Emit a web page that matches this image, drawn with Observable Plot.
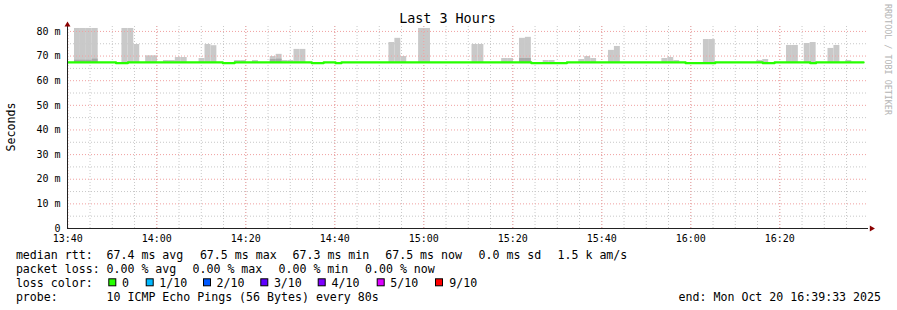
<!DOCTYPE html>
<html><head><meta charset="utf-8">
<script src="https://cdn.jsdelivr.net/npm/d3@7"></script>
<script src="https://cdn.jsdelivr.net/npm/@observablehq/plot@0.6"></script>
<style>
html,body{margin:0;padding:0;background:#fff;}
#chart{width:897px;height:310px;position:relative;}
</style></head><body><div id="chart"></div>
<script>
// ---- time window of the plot area ----
const startTime = "2025-10-20T13:39:56Z";
const endTime = "2025-10-20T16:39:56Z";
const firstStep = "2025-10-20T13:41:30Z";
const stepSeconds = 80;

// ---- smoke (ping spread) per 80 s step, values in ms ----
const smokeStep = [0,1,2,3,8,9,10,12,13,15,16,17,18,21,22,23,27,28,30,33,34,35,36,37,38,53,54,55,58,59,67,68,72,73,75,76,79,80,85,86,87,90,91,99,100,101,106,107,115,116,120,121,123,124,127,128,130];
const smokeTop  = [81.2,81.2,81.2,81.2,81.2,81.2,74.7,70.1,70.1,68.2,68.2,69.4,69.4,69.0,74.7,74.2,68.2,68.2,68.2,69.8,70.7,68.2,68.2,72.7,72.7,75.5,77.2,69.8,81.2,81.2,74.7,74.7,69.0,69.0,77.2,77.6,68.2,68.2,68.6,69.8,69.0,72.3,73.9,69.0,69.4,68.2,76.7,76.7,68.2,68.6,74.3,74.3,75.1,75.5,73.1,74.3,68.2];
const denseStep = [0,1,2,3,33,34,75,76];
const denseTop  = [68.3,68.3,68.3,68.75,68.6,68.75,69.0,69.0];
const smokeBase = 67.3;

// ---- median rtt (step line: value holds from the step index until the next) ----
const medianStep  = [-2,7,9,25,27,40,42,44,45,77,83,103,108,116,118,124,125,133];
const medianValue = [67.4,67.1,67.4,67.1,67.4,67.1,67.4,67.1,67.4,67.1,67.4,67.1,67.4,67.1,67.4,67.1,67.4,67.4];

// ---- axes ----
const yTicks = [0,10,20,30,40,50,60,70,80];
const yMinorGrid = [5,15,25,35,45,55,65,75];
const yMajorGrid = [10,20,30,40,50,60,70,80];

// ---- legend text ----
const title = "Last 3 Hours";
const yLabel = "Seconds";
const watermark = "RRDTOOL / TOBI OETIKER";
const rttItems = ["median rtt:", "67.4 ms avg", "67.5 ms max", "67.3 ms min", "67.5 ms now", "0.0 ms sd", "1.5 k am/s"];
const lossItems = ["packet loss:", "0.00 % avg", "0.00 % max", "0.00 % min", "0.00 % now"];
const lossColorTitle = "loss color:";
const lossColorLabels = ["0", "1/10", "2/10", "3/10", "4/10", "5/10", "9/10"];
const lossColors = ["#26ff00", "#00b8ff", "#0059ff", "#5e00ff", "#7e00ff", "#dd00ff", "#ff0000"];
const probeLabel = "probe:";
const probeText = "10 ICMP Echo Pings (56 Bytes) every 80s";
const endText = "end: Mon Oct 20 16:39:33 2025";

// layout (pixel positions of legend items)
const rttX = [15.9, 106.5, 199.9, 292.5, 385.2, 478.5, 557.5];
const lossX = [15.9, 106.5, 192.5, 278.5, 365.0];
const boxX = [108.3, 145.7, 203.0, 260.3, 317.7, 376.7, 435.0];
const boxLabelX = [121.9, 159.2, 216.5, 273.9, 331.5, 390.2, 449.2];
const rowY = [258.5, 272.7, 286.9, 301.0];

const t0 = new Date(firstStep);
const stepTime = n => new Date(t0.getTime() + n * stepSeconds * 1000);
const smoke = smokeStep.map((n, i) => ({x1: stepTime(n), x2: stepTime(n + 1), y1: smokeBase, y2: smokeTop[i]}));
const dense = denseStep.map((n, i) => ({x1: stepTime(n), x2: stepTime(n + 1), y1: smokeBase, y2: denseTop[i]}));
const median = medianStep.map((n, i) => ({t: stepTime(n), v: medianValue[i]}));

const xDomain = [new Date(startTime), new Date(endTime)];
const xLabelTicks = d3.utcMinute.every(20).range(xDomain[0], xDomain[1]);
const xMinorGrid = d3.utcMinute.every(5).range(xDomain[0], xDomain[1]);

const gridGrey = "#c8c8c8";
const gridRed = "#f0a0a0";

const chart = Plot.plot({
  width: 897, height: 310,
  marginLeft: 67, marginRight: 29, marginTop: 26, marginBottom: 82,
  style: {fontFamily: "'DejaVu Sans Mono', monospace", fontSize: "10px", background: "#fff", color: "#000", overflow: "visible"},
  x: {type: "utc", domain: xDomain},
  y: {domain: [0, 82]},
  marks: [
    Plot.rect(smoke, {x1: "x1", x2: "x2", y1: "y1", y2: "y2", fill: "#c9c9c9", clip: true}),
    Plot.rect(dense, {x1: "x1", x2: "x2", y1: "y1", y2: "y2", fill: "#aaaaaa", clip: true}),
    Plot.ruleX(xMinorGrid, {stroke: gridGrey, strokeDasharray: "1,2"}),
    Plot.ruleY(yMinorGrid, {stroke: gridGrey, strokeDasharray: "1,2"}),
    Plot.ruleX(xLabelTicks, {stroke: gridRed, strokeDasharray: "1,2"}),
    Plot.ruleY(yMajorGrid, {stroke: gridRed, strokeDasharray: "1,2"}),
    Plot.line(median, {x: "t", y: "v", curve: "step-after", stroke: "#26ff00", strokeWidth: 2.2, clip: true}),
    Plot.ruleY([0], {stroke: "#222"}),
    Plot.ruleX([xDomain[0]], {stroke: "#222"}),
    Plot.dot([{x: xDomain[0], y: 82}], {x: "x", y: "y", symbol: "triangle", r: 2.2, fill: "#8b0000", stroke: null, dy: -1.7}),
    Plot.dot([{x: xDomain[1], y: 0}], {x: "x", y: "y", symbol: "triangle", r: 2.2, fill: "#8b0000", stroke: null, rotate: 90, dx: 3}),
    Plot.axisX({ticks: xLabelTicks, tickFormat: d3.utcFormat("%H:%M"), tickSize: 0, tickPadding: 6, label: null}),
    Plot.axisY({ticks: yTicks, tickFormat: d => d === 0 ? "0" : d + " m", tickSize: 0, tickPadding: 7, label: null})
  ]
});
document.getElementById("chart").appendChild(chart);

const svg = d3.select(chart);
svg.append("text").attr("x", 447.5).attr("y", 23).attr("text-anchor", "middle")
  .attr("fill", "#000").style("font-size", "13.4px").text(title);
svg.append("text").attr("transform", "translate(15,127) rotate(-90)").attr("text-anchor", "middle")
  .attr("fill", "#000").style("font-size", "11.6px").text(yLabel);
svg.append("text").attr("transform", "translate(884.5,4) rotate(90)").attr("text-anchor", "start")
  .attr("fill", "#b4b4b4").style("font-size", "8.4px").text(watermark);

const legend = svg.append("g").attr("fill", "#000").attr("text-anchor", "start").style("font-size", "11.6px");
rttItems.forEach((s, i) => legend.append("text").attr("x", rttX[i]).attr("y", rowY[0]).text(s));
lossItems.forEach((s, i) => legend.append("text").attr("x", lossX[i]).attr("y", rowY[1]).text(s));
legend.append("text").attr("x", 15.9).attr("y", rowY[2]).text(lossColorTitle);
lossColorLabels.forEach((s, i) => {
  legend.append("rect").attr("x", boxX[i] + 0.5).attr("y", 278.8).attr("width", 7).attr("height", 7)
    .attr("fill", lossColors[i]).attr("stroke", "#000").attr("stroke-width", 1);
  legend.append("text").attr("x", boxLabelX[i]).attr("y", rowY[2]).text(s);
});
legend.append("text").attr("x", 15.9).attr("y", rowY[3]).text(probeLabel);
legend.append("text").attr("x", 106.5).attr("y", rowY[3]).text(probeText);
legend.append("text").attr("x", 881).attr("y", rowY[3]).attr("text-anchor", "end").text(endText);
</script>
</body></html>
